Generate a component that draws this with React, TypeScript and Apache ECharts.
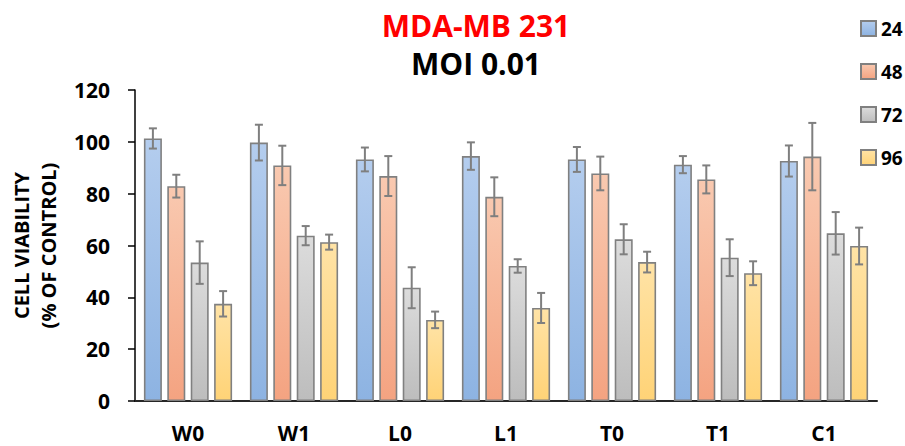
import React, { useEffect, useRef } from "react";
import * as echarts from "echarts";

const categories = ["W0", "W1", "L0", "L1", "T0", "T1", "C1"];
const seriesNames = ["24", "48", "72", "96"];
const values24 = [101.3, 99.7, 93.2, 94.5, 93.2, 91.2, 92.6];
const err24 = [3.9, 6.9, 4.6, 5.3, 4.8, 3.3, 6.0];
const values48 = [82.9, 90.9, 86.8, 78.8, 87.8, 85.5, 94.3];
const err48 = [4.4, 7.6, 7.7, 7.5, 6.5, 5.4, 13.0];
const values72 = [53.4, 63.8, 43.7, 52.1, 62.4, 55.3, 64.7];
const err72 = [8.2, 3.7, 7.9, 2.6, 5.8, 7.1, 8.2];
const values96 = [37.5, 61.3, 31.3, 35.9, 53.6, 49.3, 59.8];
const err96 = [4.9, 2.9, 3.2, 5.8, 4.0, 4.6, 7.1];
const yMin = 0;
const yMax = 120;
const yInterval = 20;

const FONT = "'Open Sans', sans-serif";
const BAR_W = 18;
const BAR_GAP = 0.3;
const gradients = [
  ["#b4cdee", "#8db3e2"],
  ["#f9c9b0", "#f4a381"],
  ["#dcdcdc", "#bdbdbd"],
  ["#ffe3a6", "#ffd377"],
];

export default function App() {
  const ref = useRef<HTMLDivElement>(null);
  useEffect(() => {
    if (!ref.current) return;
    const chart = echarts.init(ref.current, undefined, { renderer: "svg" });
    const allValues = [values24, values48, values72, values96];
    const allErrs = [err24, err48, err72, err96];
    const step = BAR_W * (1 + BAR_GAP);

    const barSeries = seriesNames.map((name, k) => ({
      name,
      type: "bar",
      data: allValues[k],
      barWidth: BAR_W,
      barGap: BAR_GAP * 100 + "%",
      itemStyle: {
        color: new echarts.graphic.LinearGradient(0, 0, 0, 1, [
          { offset: 0, color: gradients[k][0] },
          { offset: 1, color: gradients[k][1] },
        ]),
        borderColor: "#808080",
        borderWidth: 1.6,
      },
      z: 2,
    }));

    const errSeries = seriesNames.map((name, k) => ({
      name: "err" + name,
      type: "custom",
      z: 5,
      silent: true,
      data: categories.map((_, i) => [i, allValues[k][i], allErrs[k][i]]),
      encode: { x: 0, y: 1 },
      renderItem: (params: any, api: any) => {
        const i = api.value(0);
        const v = api.value(1);
        const e = api.value(2);
        const off = (k - 1.5) * step;
        const hi = api.coord([i, v + e]);
        const lo = api.coord([i, v - e]);
        const x = hi[0] + off;
        const style = { stroke: "#7f7f7f", lineWidth: 2 };
        const cap = 4;
        return {
          type: "group",
          children: [
            { type: "line", shape: { x1: x, y1: hi[1], x2: x, y2: lo[1] }, style },
            { type: "line", shape: { x1: x - cap, y1: hi[1], x2: x + cap, y2: hi[1] }, style },
            { type: "line", shape: { x1: x - cap, y1: lo[1], x2: x + cap, y2: lo[1] }, style },
          ],
        };
      },
    }));

    chart.setOption({
      animation: false,
      textStyle: { fontFamily: FONT },
      grid: { left: 133, right: 28, top: 90, bottom: 45 },
      graphic: [
        {
          type: "text",
          x: 476,
          y: 25,
          style: {
            text: "MDA-MB 231",
            fill: "#ff0000",
            font: `bold 30px ${FONT}`,
            align: "center",
            verticalAlign: "middle",
          },
        },
        {
          type: "text",
          x: 476,
          y: 63,
          style: {
            text: "MOI 0.01",
            fill: "#000000",
            font: `bold 30px ${FONT}`,
            align: "center",
            verticalAlign: "middle",
          },
        },
      ],
      legend: {
        data: seriesNames,
        orient: "vertical",
        left: 855,
        top: 14,
        itemWidth: 15,
        itemHeight: 15,
        itemGap: 24,
        icon: "rect",
        textStyle: { fontSize: 19, fontWeight: "bold", color: "#000", fontFamily: FONT },
      },
      xAxis: {
        type: "category",
        data: categories,
        axisLine: { lineStyle: { color: "#262626", width: 2 } },
        axisTick: { show: false },
        axisLabel: { fontSize: 21, fontWeight: "bold", color: "#000", margin: 21, fontFamily: FONT },
      },
      yAxis: {
        type: "value",
        min: yMin,
        max: yMax,
        interval: yInterval,
        splitLine: { show: false },
        axisLine: { show: true, lineStyle: { color: "#000", width: 1.5 } },
        axisTick: { show: true, inside: false, length: 7, lineStyle: { color: "#000", width: 1.5 } },
        axisLabel: { fontSize: 21, fontWeight: "bold", color: "#000", margin: 25, fontFamily: FONT },
        name: "CELL VIABILITY\n(% OF CONTROL)",
        nameLocation: "middle",
        nameRotate: 90,
        nameGap: 73,
        nameTextStyle: { fontSize: 20, fontWeight: "bold", color: "#000", lineHeight: 27, fontFamily: FONT },
      },
      series: [...barSeries, ...errSeries],
    });
    return () => chart.dispose();
  }, []);
  return (
    <div
      ref={ref}
      style={{ position: "absolute", left: 0, top: 0, width: 905, height: 446 }}
    />
  );
}
